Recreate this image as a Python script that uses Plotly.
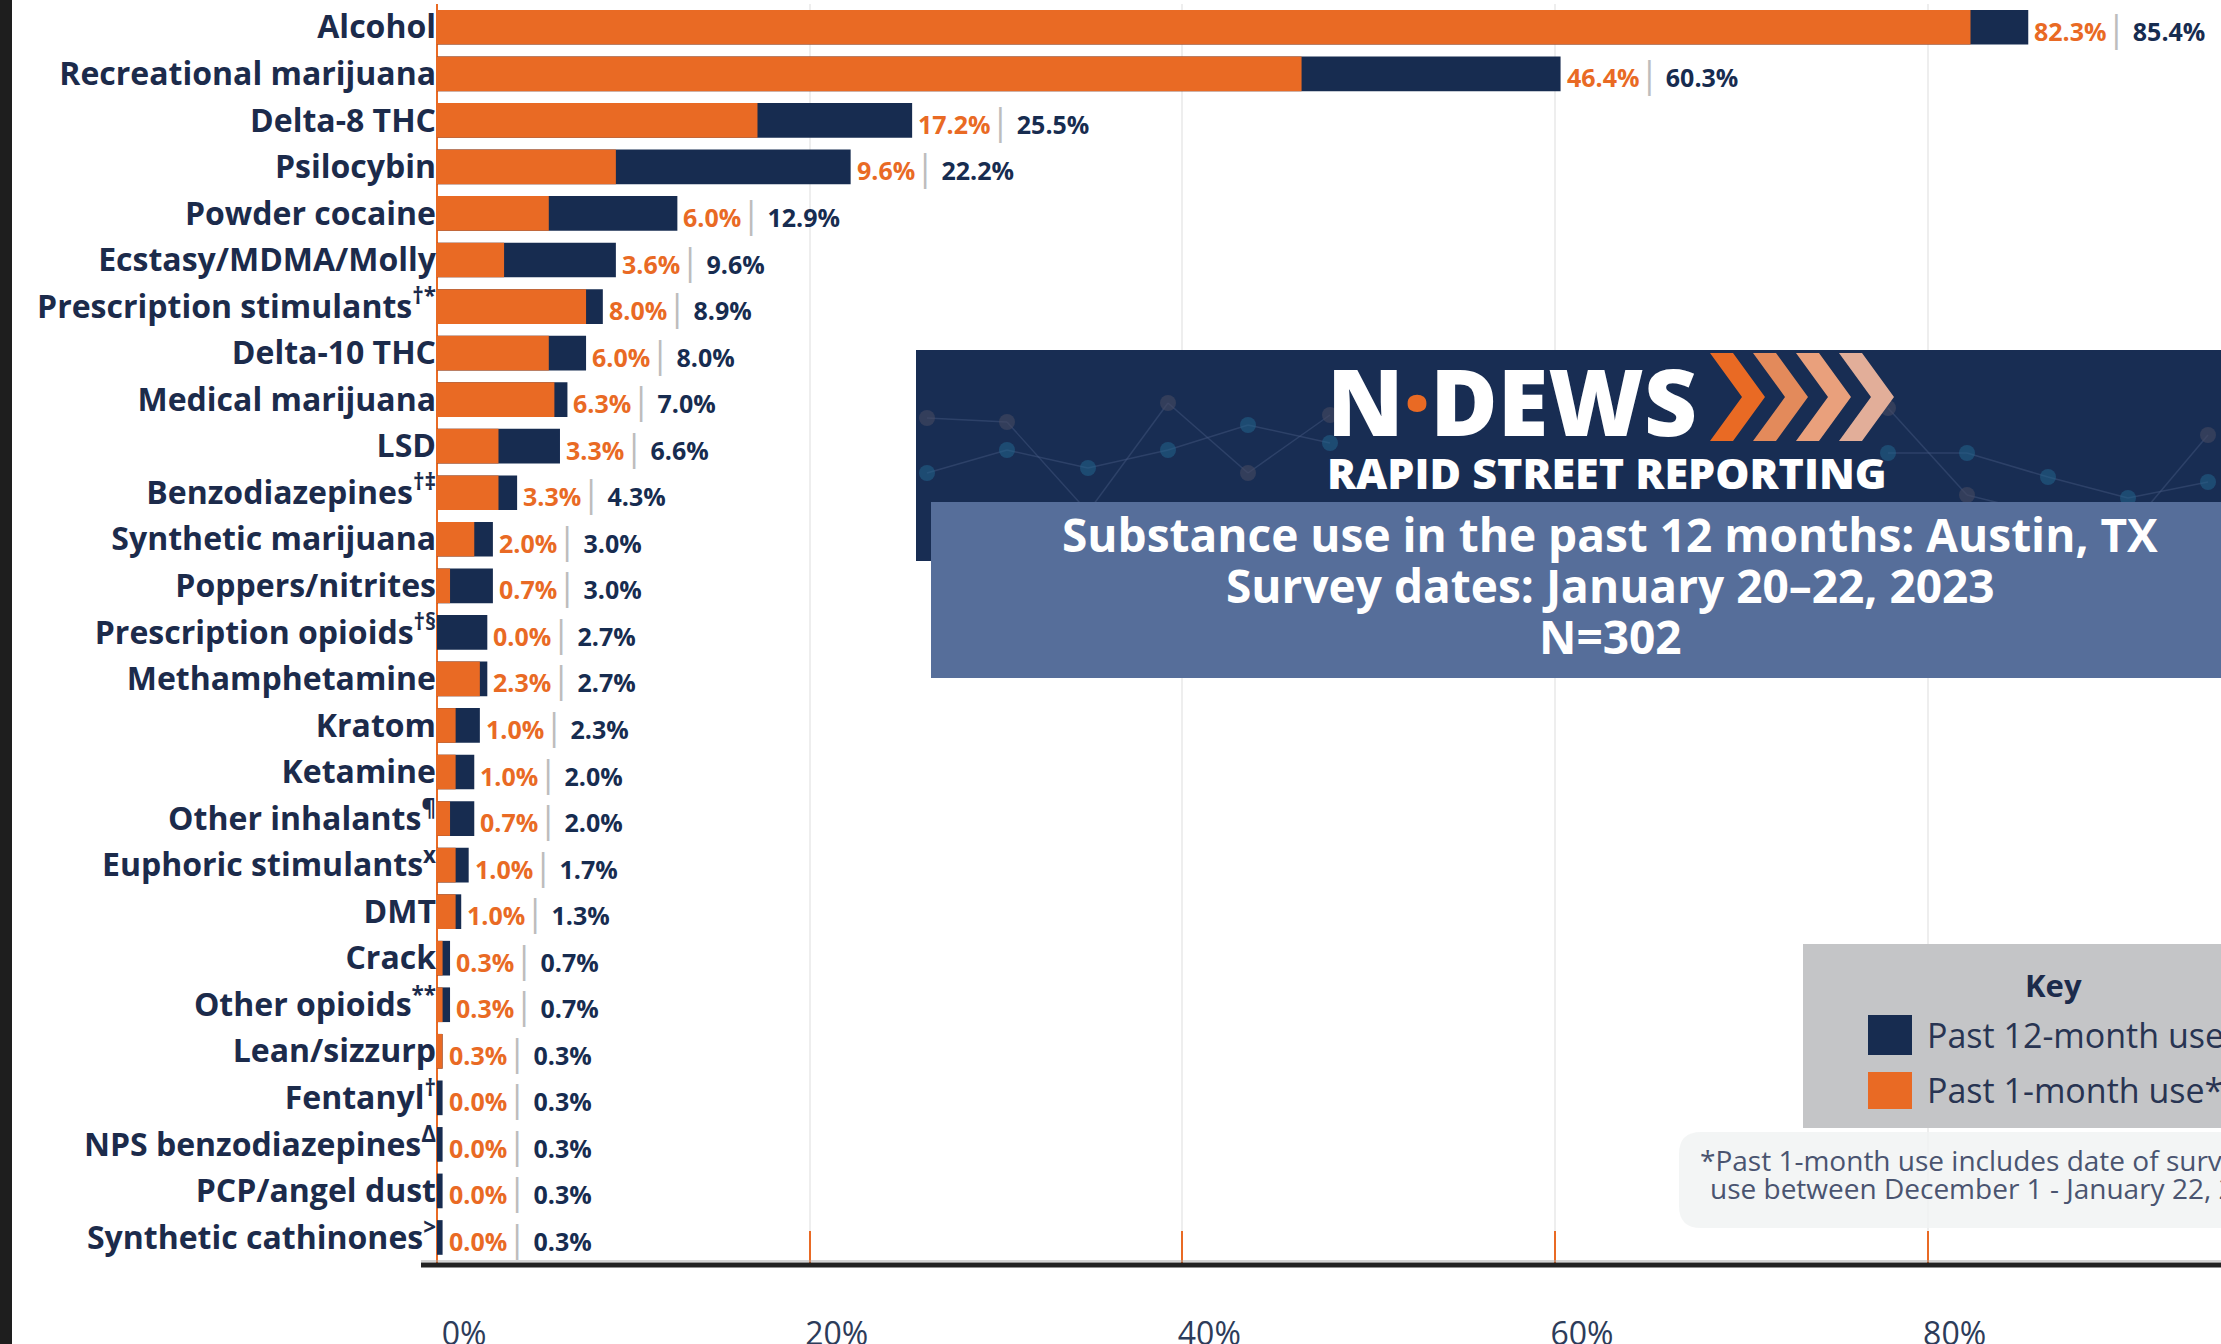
import plotly.graph_objects as go

# ---------------- data ----------------
categories = ["Alcohol", "Recreational marijuana", "Delta-8 THC", "Psilocybin", "Powder cocaine",
              "Ecstasy/MDMA/Molly", "Prescription stimulants", "Delta-10 THC", "Medical marijuana",
              "LSD", "Benzodiazepines", "Synthetic marijuana", "Poppers/nitrites",
              "Prescription opioids", "Methamphetamine", "Kratom", "Ketamine", "Other inhalants",
              "Euphoric stimulants", "DMT", "Crack", "Other opioids", "Lean/sizzurp", "Fentanyl",
              "NPS benzodiazepines", "PCP/angel dust", "Synthetic cathinones"]
tick_labels = ["Alcohol", "Recreational marijuana", "Delta-8 THC", "Psilocybin", "Powder cocaine",
               "Ecstasy/MDMA/Molly", "Prescription stimulants<sup>†*</sup>", "Delta-10 THC",
               "Medical marijuana", "LSD", "Benzodiazepines<sup>†‡</sup>", "Synthetic marijuana",
               "Poppers/nitrites", "Prescription opioids<sup>†§</sup>", "Methamphetamine", "Kratom",
               "Ketamine", "Other inhalants<sup>¶</sup>", "Euphoric stimulants<sup>x</sup>", "DMT",
               "Crack", "Other opioids<sup>**</sup>", "Lean/sizzurp", "Fentanyl<sup>†</sup>",
               "NPS benzodiazepines<sup>Δ</sup>", "PCP/angel dust", "Synthetic cathinones<sup>&gt;</sup>"]
past12 = [85.4, 60.3, 25.5, 22.2, 12.9, 9.6, 8.9, 8.0, 7.0, 6.6, 4.3, 3.0, 3.0, 2.7, 2.7, 2.3,
          2.0, 2.0, 1.7, 1.3, 0.7, 0.7, 0.3, 0.3, 0.3, 0.3, 0.3]
past1 = [82.3, 46.4, 17.2, 9.6, 6.0, 3.6, 8.0, 6.0, 6.3, 3.3, 3.3, 2.0, 0.7, 0.0, 2.3, 1.0,
         1.0, 0.7, 1.0, 1.0, 0.3, 0.3, 0.3, 0.0, 0.0, 0.0, 0.0]
x_ticks = [0, 20, 40, 60, 80]
x_tick_text = ["0%", "20%", "40%", "60%", "80%"]

title_lines = ["Substance use in the past 12 months: Austin, TX",
               "Survey dates: January 20\u201322, 2023",
               "N=302"]
key_title = "Key"
key_labels = ["Past 12-month use", "Past 1-month use*"]
footnote_lines = ["*Past 1-month use includes date of survey and",
                  "use between December 1 - January 22, 2023."]

# ---------------- style ----------------
ORANGE = "#E96A24"
NAVY = "#172C50"
LABEL = "#1C2B4B"
FONT = "Open Sans"
W, H = 2221, 1344
L, R, T, B = 437, 0, 4, 80
PW, PH = W - L - R, H - T - B


def px(x):
    return (x - L) / PW


def py(y):
    return 1 - (y - T) / PH


fig = go.Figure()
fig.add_trace(go.Bar(x=past12, y=categories, orientation="h", marker_color=NAVY,
                     marker_line_width=0, width=0.745, name="Past 12-month use",
                     showlegend=False))
fig.add_trace(go.Bar(x=past1, y=categories, orientation="h", marker_color=ORANGE,
                     marker_line_width=0, width=0.745, name="Past 1-month use",
                     showlegend=False))

annotations = []
for cat, a, b in zip(categories, past1, past12):
    txt = (f"<span style='color:{ORANGE}'>{a:.1f}%</span>"
           f"<span style='color:#BDBDBD;font-size:36px;font-weight:400'>|</span>"
           f"<span style='color:{NAVY}'> {b:.1f}%</span>")
    annotations.append(dict(x=b, y=cat, xref="x", yref="y", text=txt, showarrow=False,
                            xanchor="left", yanchor="middle", xshift=4,
                            font=dict(family=FONT, size=25, weight="bold")))

shapes = []
# dark strip at the left edge
shapes.append(dict(type="rect", xref="paper", yref="paper", x0=px(0), x1=px(12),
                   y0=py(H + 5), y1=py(-5), fillcolor="#1E1E1E", line_width=0, layer="below"))
# baseline
shapes.append(dict(type="line", xref="paper", yref="paper", x0=px(421), x1=px(W + 5),
                   y0=py(1261), y1=py(1261), line=dict(color="#A9A9A9", width=1)))
shapes.append(dict(type="line", xref="paper", yref="paper", x0=px(421), x1=px(W + 5),
                   y0=py(1265), y1=py(1265), line=dict(color="#222222", width=5)))

# title banner
shapes.append(dict(type="rect", xref="paper", yref="paper", x0=px(916), x1=px(W + 10),
                   y0=py(561), y1=py(350), fillcolor="#182D53", line_width=0))
# faint network decoration in the banner
net_a = [(927, 473), (1007, 450), (1088, 468), (1168, 450), (1248, 425), (1330, 443),
         (1888, 453), (1967, 453), (2048, 477), (2128, 498), (2208, 482)]
net_b = [(927, 418), (1007, 422), (1088, 512), (1168, 403), (1248, 473), (1330, 415),
         (1888, 408), (1967, 495), (2048, 515), (2128, 530), (2208, 435)]
for pts, dotc in ((net_a, "rgba(34,100,140,0.55)"), (net_b, "rgba(70,74,96,0.6)")):
    for (x0, y0), (x1, y1) in zip(pts[:-1], pts[1:]):
        if x0 == 1330:
            continue
        shapes.append(dict(type="line", xref="paper", yref="paper", x0=px(x0), x1=px(x1),
                           y0=py(y0), y1=py(y1), line=dict(color="rgba(70,90,130,0.45)", width=1.5)))
    for (x0, y0) in pts:
        shapes.append(dict(type="circle", xref="paper", yref="paper", x0=px(x0 - 8), x1=px(x0 + 8),
                           y0=py(y0 + 8), y1=py(y0 - 8), fillcolor=dotc, line_width=0))
# chevrons
chev_cols = ["#E96A24", "#E38A5B", "#E9A07C", "#E2AE99"]
for k, c in enumerate(chev_cols):
    x0 = 1710 + 43 * k
    t, d = 23, 32
    pts = [(x0, 353), (x0 + t, 353), (x0 + t + d, 397), (x0 + t, 441), (x0, 441), (x0 + d, 397)]
    path = "M " + " L ".join(f"{px(a):.5f},{py(b_):.5f}" for a, b_ in pts) + " Z"
    shapes.append(dict(type="path", xref="paper", yref="paper", path=path, fillcolor=c, line_width=0))
# subtitle box
shapes.append(dict(type="rect", xref="paper", yref="paper", x0=px(931), x1=px(W + 10),
                   y0=py(678), y1=py(502), fillcolor="#566E9A", line_width=0))

# key box
shapes.append(dict(type="rect", xref="paper", yref="paper", x0=px(1803), x1=px(W + 10),
                   y0=py(1128), y1=py(944), fillcolor="#C4C5C7", line_width=0))
shapes.append(dict(type="rect", xref="paper", yref="paper", x0=px(1868), x1=px(1912),
                   y0=py(1055), y1=py(1015), fillcolor=NAVY, line_width=0))
shapes.append(dict(type="rect", xref="paper", yref="paper", x0=px(1868), x1=px(1912),
                   y0=py(1109), y1=py(1072), fillcolor=ORANGE, line_width=0))
# footnote rounded box
fx0, fx1, fy0, fy1, rr = 1679, W + 30, 1132, 1228, 22
fpath = (f"M {px(fx0 + rr)},{py(fy0)} L {px(fx1)},{py(fy0)} L {px(fx1)},{py(fy1)} "
         f"L {px(fx0 + rr)},{py(fy1)} Q {px(fx0)},{py(fy1)} {px(fx0)},{py(fy1 - rr)} "
         f"L {px(fx0)},{py(fy0 + rr)} Q {px(fx0)},{py(fy0)} {px(fx0 + rr)},{py(fy0)} Z")
shapes.append(dict(type="path", xref="paper", yref="paper", path=fpath,
                   fillcolor="rgba(240,242,242,0.8)", line_width=0))

# banner texts
annotations.append(dict(x=px(1512), y=py(400), xref="paper", yref="paper", showarrow=False,
                        text=f"N<span style='color:{ORANGE}'>·</span>DEWS",
                        xanchor="center", yanchor="middle",
                        font=dict(family=FONT, size=92, color="white", weight=800)))
annotations.append(dict(x=px(1607), y=py(472), xref="paper", yref="paper", showarrow=False,
                        text="RAPID STREET REPORTING", xanchor="center", yanchor="middle",
                        font=dict(family=FONT, size=43, color="white", weight=800)))
for line, yc in zip(title_lines, (534, 585, 636)):
    annotations.append(dict(x=px(1610), y=py(yc), xref="paper", yref="paper", showarrow=False,
                            text=line, xanchor="center", yanchor="middle",
                            font=dict(family=FONT, size=46, color="white", weight="bold")))
# key texts
annotations.append(dict(x=px(2053), y=py(985), xref="paper", yref="paper", showarrow=False,
                        text=key_title, xanchor="center", yanchor="middle",
                        font=dict(family=FONT, size=31, color=LABEL, weight="bold")))
for lab, yc in zip(key_labels, (1035, 1090)):
    annotations.append(dict(x=px(1925), y=py(yc), xref="paper", yref="paper", showarrow=False,
                            text=lab, xanchor="left", yanchor="middle",
                            font=dict(family=FONT, size=34, color="#283452")))
for line, (xl, yc) in zip(footnote_lines, ((1698, 1160), (1708, 1188))):
    annotations.append(dict(x=px(xl), y=py(yc), xref="paper", yref="paper", showarrow=False,
                            text=line, xanchor="left", yanchor="middle",
                            font=dict(family=FONT, size=28, color="#4A5470")))

fig.update_layout(
    width=W, height=H, barmode="overlay",
    margin=dict(l=L, r=R, t=T, b=B, autoexpand=False),
    paper_bgcolor="white", plot_bgcolor="white",
    shapes=shapes, annotations=annotations,
    xaxis=dict(range=[0, PW / 18.633], tickvals=x_ticks, ticktext=x_tick_text,
               ticks="inside", ticklen=33, tickcolor=ORANGE, tickwidth=2,
               showgrid=True, gridcolor="#EEEEEE", gridwidth=2,
               zeroline=True, zerolinecolor=ORANGE, zerolinewidth=2,
               showline=False, ticklabelshift=27, ticklabelstandoff=48,
               tickfont=dict(family=FONT, size=32, color="#2D3C5A"), fixedrange=True),
    yaxis=dict(categoryorder="array", categoryarray=categories,
               tickvals=categories, ticktext=tick_labels,
               range=[26.57, -0.5], ticks="", showgrid=False, zeroline=False, showline=False,
               ticklabelstandoff=0,
               tickfont=dict(family=FONT, size=32, color=LABEL, weight="bold"), fixedrange=True),
)

fig.write_html("out.html", config={"displayModeBar": False},
               post_script="document.body.style.margin='0';document.body.style.overflow='hidden';")
